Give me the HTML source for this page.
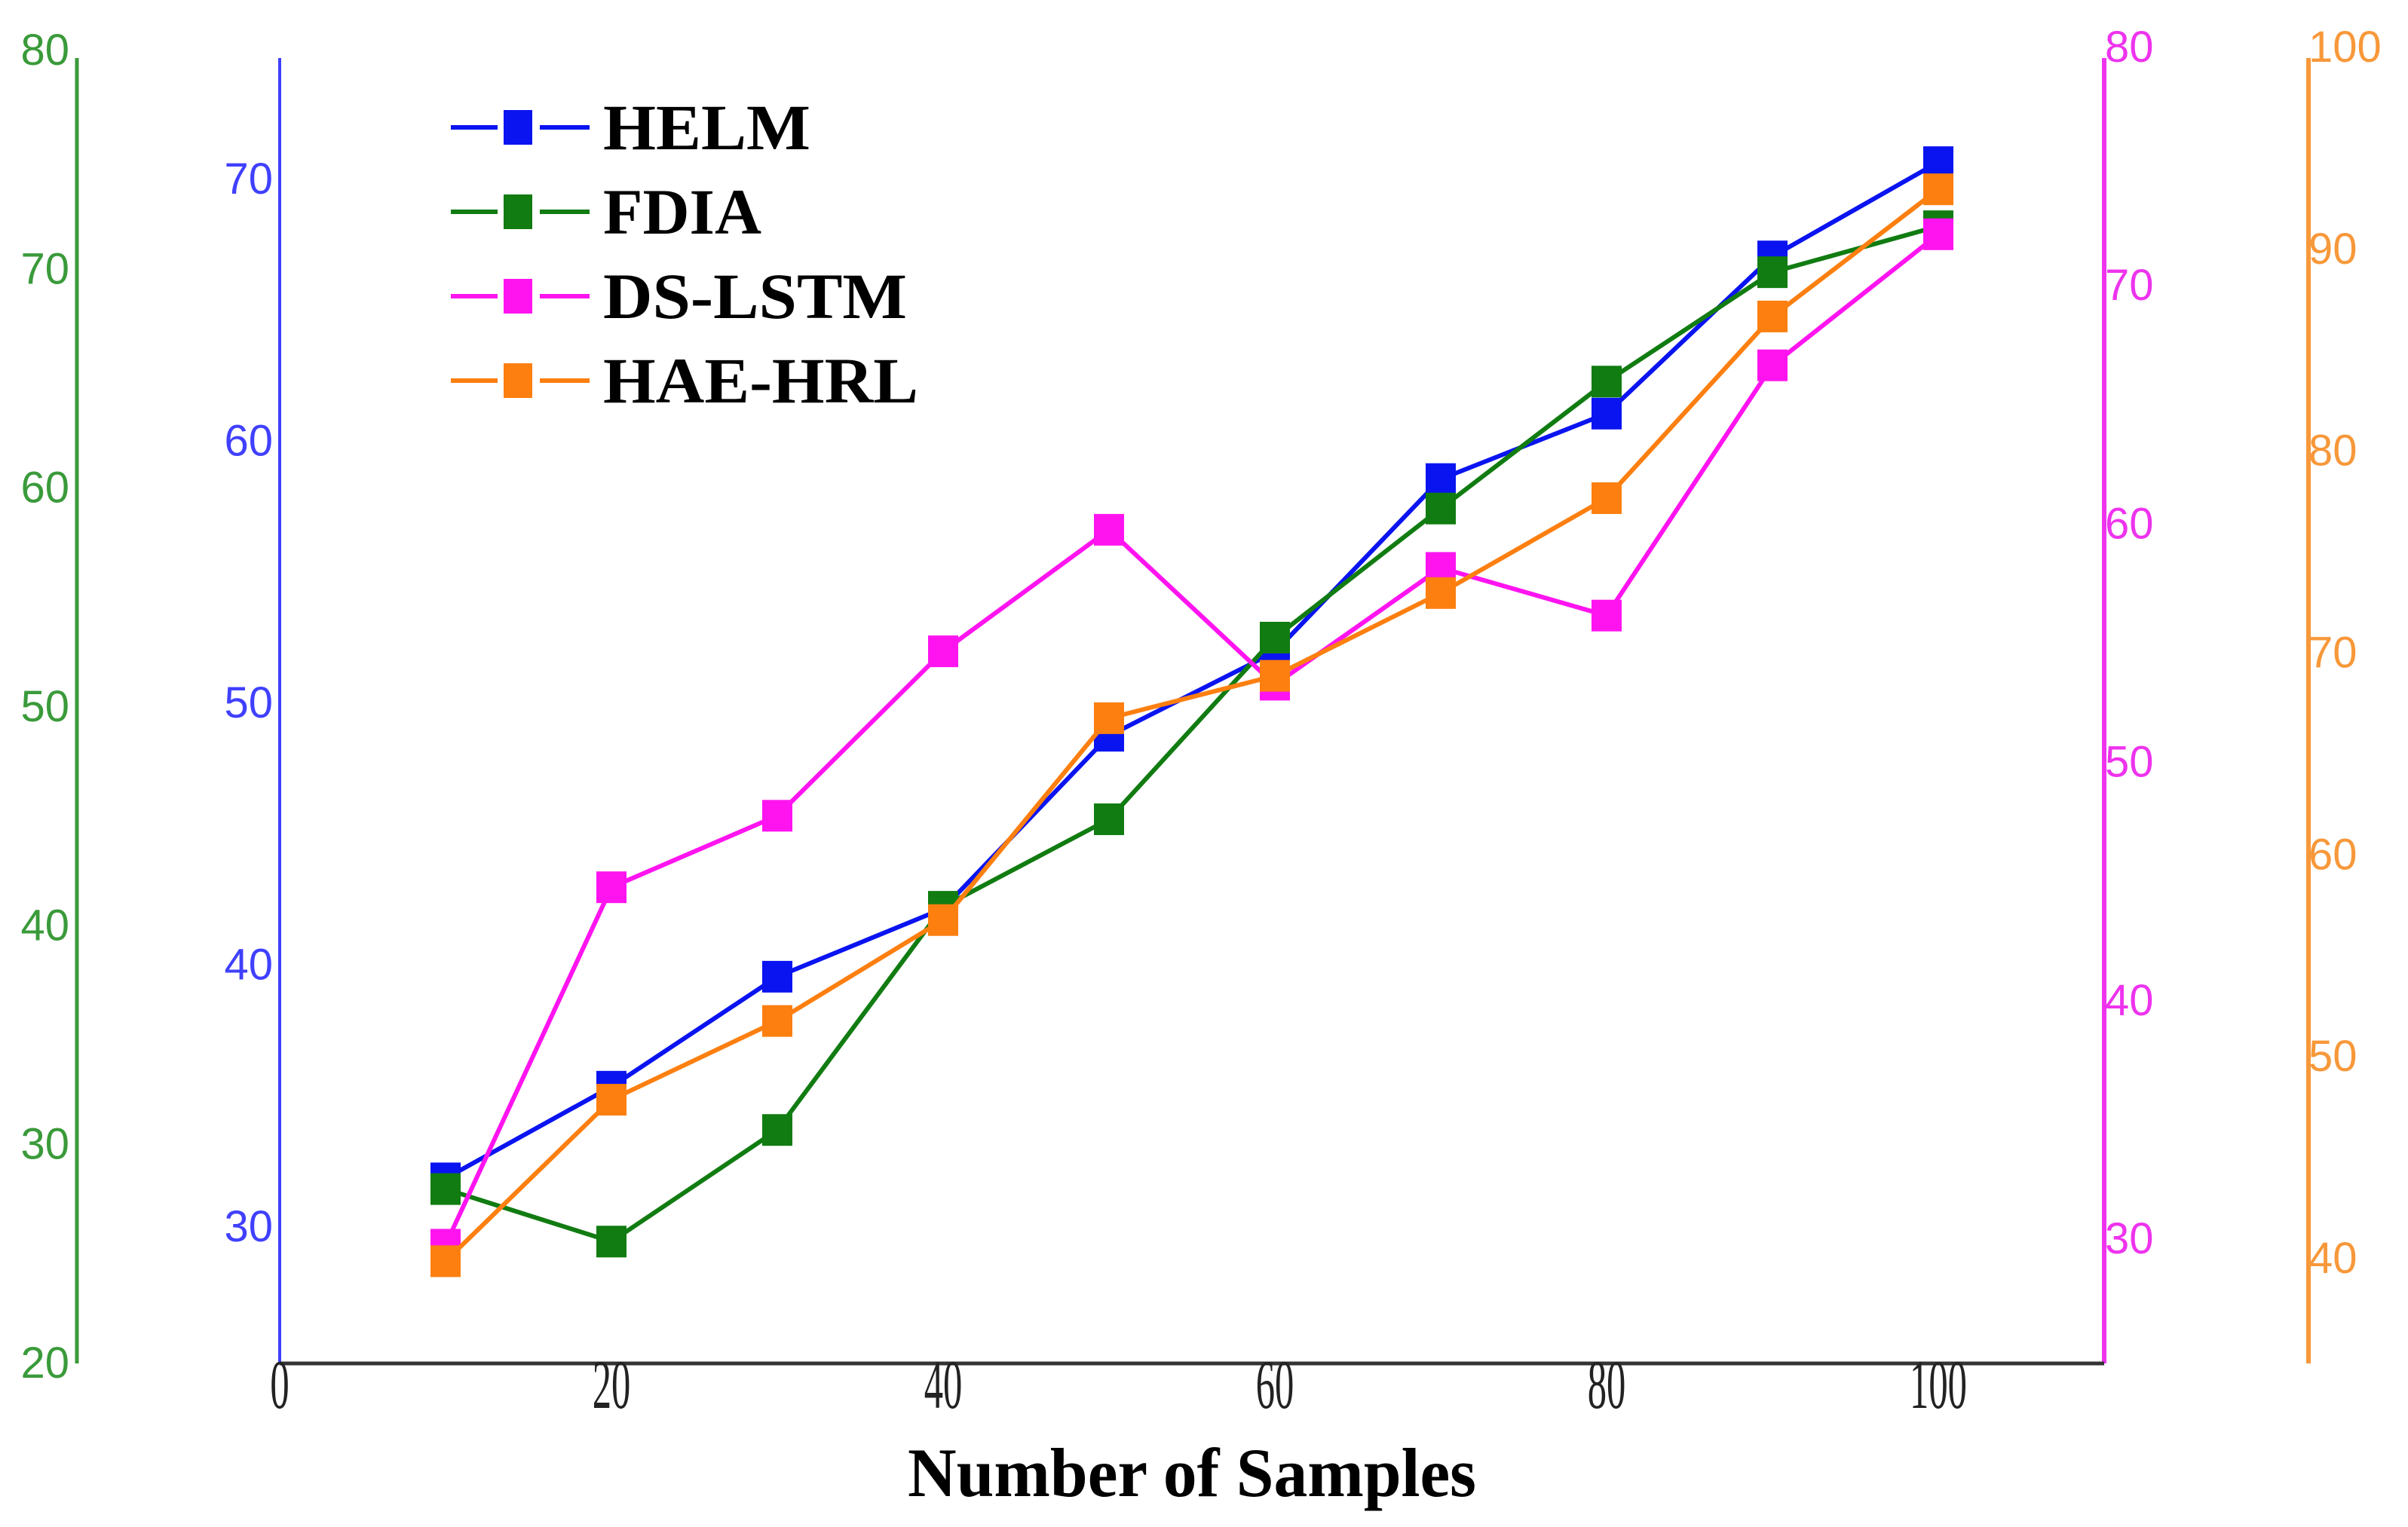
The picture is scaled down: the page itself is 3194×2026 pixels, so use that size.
<!DOCTYPE html>
<html><head><meta charset="utf-8"><style>html,body{margin:0;padding:0;background:#fff}svg{display:block}</style></head>
<body>
<svg id="chart" width="3194" height="2026" viewBox="0 0 3194 2026" xmlns="http://www.w3.org/2000/svg">
<g id="axes"></g>
<g id="series"></g>
<g id="legend"></g>
<text x="1581" y="1985" font-family="Liberation Serif, serif" font-weight="bold" font-size="92" text-anchor="middle" textLength="754" lengthAdjust="spacingAndGlyphs">Number of Samples</text>
</svg>
<script>
const xs = [10,20,30,40,50,60,70,80,90,100];
const helm = [31.8,35.3,39.5,42.1,48.7,51.9,58.5,61.0,67.0,70.6];
const fdia = [27.9,25.5,30.6,40.8,44.8,53.1,59.0,64.8,69.8,71.9];
const dslstm = [29.7,44.7,47.7,54.6,59.7,53.2,58.1,56.1,66.6,72.1];
const haehrl = [39.8,47.8,51.7,56.7,66.7,68.8,72.9,77.6,86.6,92.9];
const xTicks = [0,20,40,60,80,100];
const greenTicks = [20,30,40,50,60,70,80];
const blueTicks = [30,40,50,60,70];
const magentaTicks = [30,40,50,60,70,80];
const orangeTicks = [40,50,60,70,80,90,100];
const seriesNames = ['HELM','FDIA','DS-LSTM','HAE-HRL'];

const NS='http://www.w3.org/2000/svg';
function mk(tag, attrs, parent){const e=document.createElementNS(NS,tag);for(const k in attrs)e.setAttribute(k,attrs[k]);parent.appendChild(e);return e;}
const X0=371, XTOP=77, XB=1809;
const xScale = v => X0 + v*22;
const lin = (v0,y0,v1,y1) => v => y0 + (v-v0)*(y1-y0)/(v1-v0);
const yGreen = lin(20,1807,80,65);
const yBlue = lin(30,1626,70,236);
const yMag = lin(30,1642,80,61);
const yOr = lin(40,1668,100,61);
const axes=document.getElementById('axes');

function vAxis(name,x,color,ticks,sc,lx,anchor,w){
  const l=mk('line',{x1:x,y1:XTOP,x2:x,y2:XB,stroke:color,'stroke-width':w},axes);
  
  
  ticks.forEach(t=>{
    const tx=mk('text',{x:lx,y:sc(t)+21,fill:color,'font-family':'Liberation Sans, sans-serif','font-size':58,'text-anchor':anchor},axes);
    
    
    tx.textContent=t;
  });
}
vAxis('green-y',102,'#3a9a3a',greenTicks,yGreen,92,'end',5);
vAxis('blue-y',371,'#4040ff',blueTicks,yBlue,362,'end',4);
vAxis('magenta-y',2791,'#ee33ee',magentaTicks,yMag,2792,'start',6);
vAxis('orange-y',3062,'#f7983a',orangeTicks,yOr,3062,'start',6);

const xl=mk('line',{x1:X0,y1:XB,x2:2791,y2:XB,stroke:'#333','stroke-width':5},axes);


xTicks.forEach(t=>{
  const cx=xScale(t);
  const tx=mk('text',{x:0,y:0,fill:'#222','font-family':'Liberation Serif, serif','font-size':92,'text-anchor':'middle',transform:'translate('+cx+',1868) scale(0.55,1)'},axes);
  
  
  tx.textContent=t;
});

const sg=document.getElementById('series');
function drawSeries(name,vals,sc,color){
  const g=mk('g',{},sg);
  
  
  const pts=vals.map((v,i)=>xScale(xs[i])+','+sc(v)).join(' ');
  const pl=mk('polyline',{points:pts,fill:'none',stroke:color,'stroke-width':6,'stroke-linejoin':'round'},g);
  
  
  vals.forEach((v,i)=>{
    const r=mk('rect',{x:xScale(xs[i])-20,y:sc(v)-21,width:40,height:42,fill:color},g);
    
    
  });
}
drawSeries('helm',helm,yBlue,'#0a14f0');
drawSeries('fdia',fdia,yGreen,'#117c11');
drawSeries('ds-lstm',dslstm,yMag,'#ff14f0');
drawSeries('hae-hrl',haehrl,yOr,'#fc7f10');

const lg=document.getElementById('legend');
const legColors=['#0a14f0','#117c11','#ff14f0','#fc7f10'];
const legWidths=[275,210,403,418];
const legCenter=[169,281,393,505];
seriesNames.forEach((n,i)=>{
  const g=mk('g',{},lg);
  
  
  const y=legCenter[i];
  mk('line',{x1:598,y1:y,x2:660,y2:y,stroke:legColors[i],'stroke-width':6},g);
  mk('line',{x1:716,y1:y,x2:782,y2:y,stroke:legColors[i],'stroke-width':6},g);
  mk('rect',{x:668,y:y-23,width:38,height:46,fill:legColors[i]},g);
  const t=mk('text',{x:800,y:y+29,'font-family':'Liberation Serif, serif','font-weight':'bold','font-size':86,textLength:legWidths[i],lengthAdjust:'spacingAndGlyphs',fill:'#000'},g);
  
  
  t.textContent=n;
});
</script>
</body></html>
